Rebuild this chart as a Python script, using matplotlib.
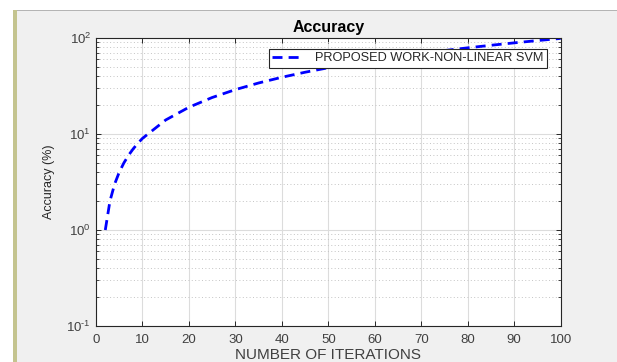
import matplotlib
matplotlib.use('Agg')
import matplotlib.pyplot as plt
from matplotlib.patches import Rectangle
from matplotlib.ticker import FixedLocator, LogLocator, NullFormatter

plt.rcParams['font.family'] = ['Liberation Sans', 'DejaVu Sans']
plt.rcParams['mathtext.fontset'] = 'custom'
plt.rcParams['mathtext.rm'] = 'Liberation Sans'
plt.rcParams['mathtext.it'] = 'Liberation Sans'

# values
iterations = [2, 3, 4, 5, 6, 7, 8, 9, 10, 15, 20, 25, 30, 35, 40, 45, 50,
              55, 60, 65, 70, 75, 80, 85, 90, 95, 100]
accuracy = [1, 2, 3, 4, 5, 6, 7, 8, 9, 14, 19, 24, 29, 34, 39, 44, 49,
            54, 59, 64, 69, 74, 79, 84, 89, 94, 99]
x_ticks = [0, 10, 20, 30, 40, 50, 60, 70, 80, 90, 100]
y_ticks = [0.1, 1, 10, 100]
y_tick_labels = [r'$10^{\text{-}1}$', r'$10^{0}$', r'$10^{1}$', r'$10^{2}$']

W, H = 617, 362
fig = plt.figure(figsize=(W / 100, H / 100), dpi=100, facecolor='white')

# window-like background (screenshot frame)
def px_rect(x0, y0, x1, y1, **kw):
    fig.add_artist(Rectangle((x0 / W, 1 - y1 / H), (x1 - x0) / W, (y1 - y0) / H,
                             transform=fig.transFigure, **kw))

px_rect(17, 10, W, H, facecolor='#f0f0f0', edgecolor='none', zorder=-10)
px_rect(13, 10, 17, H, facecolor='#c4c48f', edgecolor='none', zorder=-9)
px_rect(17, 10, W, 11, facecolor='#b4b4b4', edgecolor='none', zorder=-9)

ax = fig.add_axes([96 / W, 1 - 326 / H, (560.7 - 96) / W, (326 - 38) / H])
ax.set_facecolor('white')

ax.semilogy(iterations, accuracy, color='#0000ff', linewidth=2.0,
            dashes=(3.6, 2.2), label='PROPOSED WORK-NON-LINEAR SVM')

ax.set_xlim(0, 100)
ax.set_ylim(0.1, 100)
ax.xaxis.set_major_locator(FixedLocator(x_ticks))
ax.set_yticks(y_ticks)
ax.set_yticklabels(y_tick_labels)
ax.yaxis.set_minor_locator(LogLocator(base=10, subs=range(2, 10)))
ax.yaxis.set_minor_formatter(NullFormatter())

ax.grid(True, which='major', color='#dcdcdc', linewidth=0.8, linestyle='-')
ax.grid(True, which='minor', axis='y', color='#c4c4c4', linewidth=0.7,
        linestyle=(0, (1, 2.5)))
ax.set_axisbelow(True)

ax.tick_params(which='both', direction='in', top=True, right=True,
               colors='#262626', labelcolor='#404040', labelsize=9.5)
ax.tick_params(which='major', length=3.5, width=0.7)
ax.tick_params(which='minor', length=2, width=0.6)
ax.tick_params(axis='x', pad=6)
for s in ax.spines.values():
    s.set_color('#262626')
    s.set_linewidth(0.8)

ax.set_title('Accuracy', fontsize=11.5, fontweight='bold', pad=4)
ax.set_xlabel('NUMBER OF ITERATIONS', fontsize=11, color='#404040', labelpad=1)
ax.set_ylabel('Accuracy (%)', fontsize=9, color='#262626', labelpad=8)

leg = ax.legend(loc='upper right', bbox_to_anchor=(0.970, 0.961), borderaxespad=0,
                fancybox=False, edgecolor='#262626', framealpha=1, fontsize=9.2,
                handlelength=2.5, handletextpad=0.9, borderpad=0.25)
leg.get_frame().set_linewidth(0.8)
for t in leg.get_texts():
    t.set_color('#262626')

fig.savefig('out.png', dpi=100)
